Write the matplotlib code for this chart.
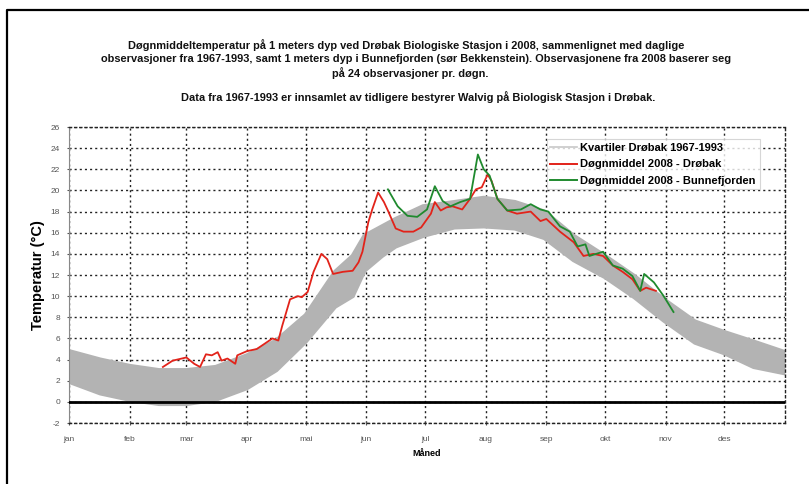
import matplotlib
matplotlib.use("Agg")
import matplotlib.pyplot as plt
from matplotlib.lines import Line2D

plt.rcParams['font.family'] = ['Liberation Sans', 'DejaVu Sans']

# ---- data ----
months = ["jan", "feb", "mar", "apr", "mai", "jun", "jul", "aug", "sep", "okt", "nov", "des"]
month_start = [0, 31, 60, 91, 121, 152, 182, 213, 244, 274, 305, 335]

band_day = [0, 16, 31, 46, 60, 75, 91, 106, 121, 136, 145, 151, 160, 167, 181, 197, 212,
            228, 243, 258, 274, 289, 304, 320, 335, 350, 366]
band_upper = [4.8, 4.0, 3.4, 3.0, 3.0, 3.3, 4.4, 5.8, 8.2, 12.3, 13.8, 15.7, 16.6, 17.3,
              18.5, 18.9, 19.3, 18.9, 18.0, 15.7, 13.8, 11.9, 9.7, 7.6, 6.6, 5.7, 4.7]
band_lower = [1.9, 0.8, 0.2, -0.2, -0.2, 0.2, 1.3, 3.0, 5.7, 9.0, 10.0, 12.4, 13.8, 14.7,
              15.7, 16.5, 16.6, 16.4, 15.5, 13.4, 11.8, 9.9, 7.7, 5.6, 4.6, 3.3, 2.7]

red_day = [48, 53, 60, 64, 67, 70, 73, 76, 78, 81, 85, 86, 91, 96, 100, 104, 107, 109,
           113, 117, 119, 122, 125, 129, 132, 135, 140, 145, 148, 150, 153, 155, 158,
           161, 163, 167, 171, 176, 180, 185, 187, 190, 193, 196, 201, 205, 208, 211,
           214, 216, 219, 224, 229, 236, 241, 244, 251, 258, 263, 268, 273, 278, 283,
           288, 292, 295, 300]
red_val = [3.3, 3.9, 4.2, 3.6, 3.3, 4.5, 4.4, 4.7, 3.9, 4.1, 3.6, 4.4, 4.8, 5.0, 5.5,
           6.0, 5.8, 7.2, 9.7, 10.0, 9.9, 10.4, 12.3, 14.0, 13.5, 12.1, 12.3, 12.4, 13.2,
           14.2, 17.0, 18.2, 19.8, 18.9, 18.1, 16.4, 16.1, 16.1, 16.5, 17.8, 18.9, 18.1,
           18.4, 18.5, 18.2, 19.2, 20.1, 20.3, 21.5, 20.9, 19.2, 18.1, 17.8, 18.0, 17.1,
           17.3, 16.1, 15.1, 13.8, 14.0, 13.8, 12.9, 12.3, 11.6, 10.5, 10.8, 10.5]

green_day = [163, 168, 173, 178, 183, 187, 191, 195, 200, 205, 209, 212, 215, 219, 224,
             231, 236, 241, 245, 251, 256, 260, 264, 266, 273, 278, 283, 288, 292, 294,
             299, 304, 309]
green_val = [20.1, 18.5, 17.6, 17.5, 18.2, 20.4, 19.0, 18.5, 18.9, 19.2, 23.4, 22.0,
             21.4, 19.2, 18.1, 18.2, 18.7, 18.2, 18.0, 16.6, 16.1, 14.7, 14.9, 13.8,
             14.2, 12.9, 12.6, 11.9, 10.5, 12.1, 11.3, 10.0, 8.5]

yticks = list(range(-2, 27, 2))

W, H = 809, 484
fig = plt.figure(figsize=(W / 100, H / 100), dpi=100)
ax = fig.add_axes([69 / W, 1 - 423 / H, 716 / W, 296 / H])

gray = '#b3b3b3'
ax.fill_between(band_day, band_lower, band_upper, color=gray, lw=0, zorder=2)
ax.plot(band_day, band_upper, color=gray, lw=3, zorder=2)
ax.plot(band_day, band_lower, color=gray, lw=3, zorder=2)
ax.plot(red_day, red_val, color='#e2231a', lw=1.3, zorder=4)
ax.plot(green_day, green_val, color='#1f8a2e', lw=1.3, zorder=5)

ax.axhline(0, color='black', lw=2, zorder=3)

ax.set_xlim(0, 366)
ax.set_ylim(-2, 26)
ax.set_xticks(month_start)
ax.set_xticklabels(months)
ax.set_yticks(yticks)
ax.set_yticklabels([str(v) for v in yticks])
ax.tick_params(axis='both', labelsize=6, colors='#555555', length=3, direction='inout')
ax.tick_params(axis='x', pad=8)
ax.tick_params(axis='y', pad=5)

dot = (0, (1.5, 2.2))
ax.grid(True, color='#222222', linestyle=dot, linewidth=1.0, zorder=1)
ax.set_axisbelow(True)
for s in ['top', 'right', 'bottom']:
    ax.spines[s].set_linestyle(dot)
    ax.spines[s].set_color('#222222')
    ax.spines[s].set_linewidth(1.0)
ax.spines['left'].set_color('#888888')

ax.set_ylabel('Temperatur (°C)', fontsize=10.5, fontweight='bold', labelpad=4)
ax.set_xlabel('Måned', fontsize=6.5, fontweight='bold', labelpad=4)

handles = [Line2D([], [], color='#c8c8c8', lw=1.2),
           Line2D([], [], color='#e2231a', lw=1.4),
           Line2D([], [], color='#1f8a2e', lw=1.4)]
labels = ['Kvartiler Drøbak 1967-1993', 'Døgnmiddel 2008 - Drøbak',
          'Døgnmiddel 2008 - Bunnefjorden']
leg = ax.legend(handles, labels, loc='upper left', bbox_to_anchor=(0.667, 0.958),
                prop={'weight': 'bold', 'size': 8}, frameon=True,
                fancybox=False, edgecolor='#cccccc', handlelength=2.4,
                handletextpad=0.3, labelspacing=0.55, borderaxespad=0,
                borderpad=0.35)
leg.get_frame().set_linewidth(0.8)

def ftext(x, y, s, **kw):
    fig.text(x / W, 1 - y / H, s, ha='center', va='center', **kw)

tkw = dict(fontsize=7.9, fontweight='bold', color='#111111')
ftext(406, 45, 'Døgnmiddeltemperatur på 1 meters dyp ved Drøbak Biologiske Stasjon i 2008, sammenlignet med daglige', **tkw)
ftext(416, 59, 'observasjoner fra 1967-1993, samt 1 meters dyp i Bunnefjorden (sør Bekkenstein). Observasjonene fra 2008 baserer seg', **tkw)
ftext(410, 73, 'på 24 observasjoner pr. døgn.', **tkw)
ftext(418, 97, 'Data fra 1967-1993 er innsamlet av tidligere bestyrer Walvig på Biologisk Stasjon i Drøbak.', **tkw)

# figure frame (left and top edges)
fig.add_artist(Line2D([7 / W, 7 / W, 1.0], [0.0, 1 - 10 / H, 1 - 10 / H],
                      transform=fig.transFigure, color='black', lw=1.6))

fig.savefig('out.png', dpi=100)
